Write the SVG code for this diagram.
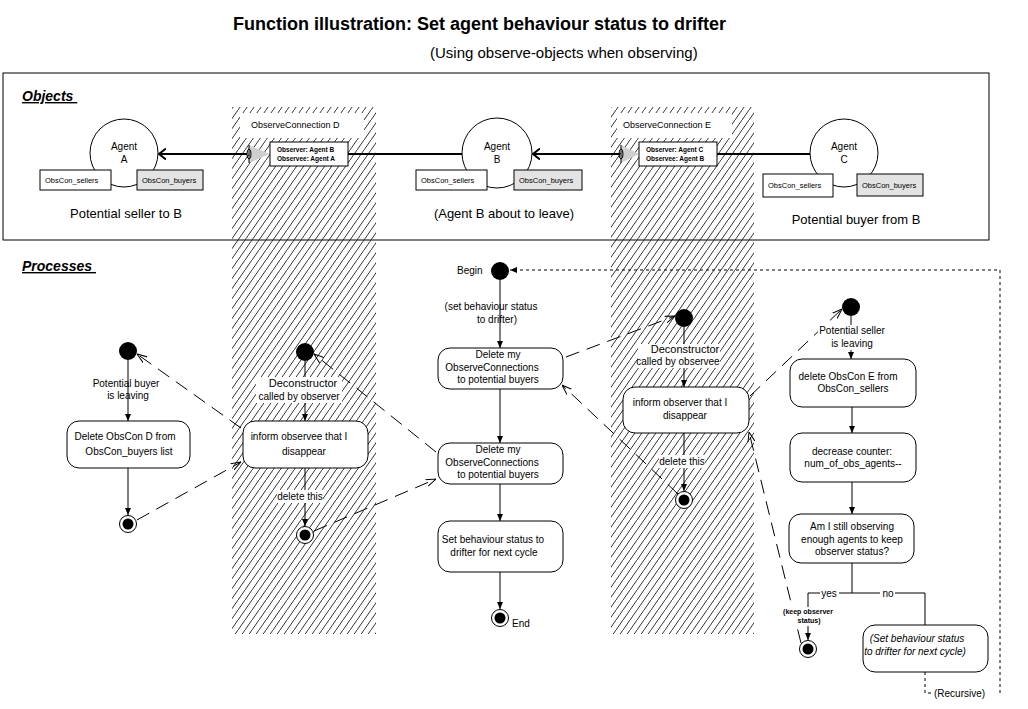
<svg xmlns="http://www.w3.org/2000/svg" width="1028" height="709" viewBox="0 0 1028 709">
<style>
text{font-family:"Liberation Sans",Arial,Helvetica,sans-serif;fill:#000}
.t10{font-size:10px}
.t11{font-size:11px}
.mid{text-anchor:middle}
.box{fill:#fff;stroke:#000;stroke-width:1}
.gray{fill:#e3e3e3;stroke:#000;stroke-width:1}
.circ{fill:#fff;stroke:#000;stroke-width:1}
.flow{fill:none;stroke:#000;stroke-width:1;marker-end:url(#tri)}
.line{fill:none;stroke:#000;stroke-width:1}
.msg{fill:none;stroke:#000;stroke-width:1;stroke-dasharray:14 8;marker-end:url(#open)}
.rec{fill:none;stroke:#000;stroke-width:1;stroke-dasharray:3 3;marker-end:url(#tri)}
.assoc{fill:none;stroke:#000;stroke-width:2}
.assocA{fill:none;stroke:#000;stroke-width:2;marker-end:url(#openA)}
.bg{fill:#fff}
.small{font-size:7.5px}
.tiny{font-size:6.5px;font-weight:bold}
.kp{font-size:7px;font-weight:bold}
.lbl{font-size:13px}
.conn{font-size:9px}
.head{font-size:14px;font-weight:bold;font-style:italic;text-decoration:underline}
.it{font-style:italic}
</style>
<defs>
<pattern id="hatch" patternUnits="userSpaceOnUse" width="7" height="10">
<path d="M-0.7,11 L7.7,-1" stroke="#000" stroke-width="0.8"/>
</pattern>
<marker id="tri" viewBox="0 0 7 6" refX="7" refY="3" markerWidth="7" markerHeight="6" orient="auto" markerUnits="userSpaceOnUse"><path d="M0,0 L7,3 L0,6 z" fill="#000"/></marker>
<marker id="open" viewBox="0 0 10 8" refX="10" refY="4" markerWidth="10" markerHeight="8" orient="auto" markerUnits="userSpaceOnUse"><path d="M0,0.5 L10,4 L0,7.5" fill="none" stroke="#000" stroke-width="1"/></marker>
<marker id="openA" viewBox="0 0 8 12" refX="7" refY="6" markerWidth="8" markerHeight="12" orient="auto" markerUnits="userSpaceOnUse"><path d="M0,0.5 L7,6 L0,11.5" fill="none" stroke="#000" stroke-width="2"/></marker>
</defs>
<rect x="0" y="0" width="1028" height="709" fill="#fff"/>

<g id="title">
<text x="233" y="30" style="font-size:18px;font-weight:bold">Function illustration: Set agent behaviour status to drifter</text>
<text x="430" y="58" style="font-size:15px">(Using observe-objects when observing)</text>
</g>

<g id="lanes">
<rect x="232" y="107" width="144" height="527" fill="url(#hatch)"/>
<rect x="611" y="107" width="143" height="527" fill="url(#hatch)"/>
</g>

<g id="objects-frame">
<rect x="3" y="73" width="986" height="167" fill="none" stroke="#000" stroke-width="1"/>
<text x="22" y="101" class="head">Objects&#160;</text>
</g>

<g id="processes-label">
<text x="22" y="271" class="head">Processes&#160;</text>
</g>

<g id="connectors">
<path class="assocA" d="M247,154 H159"/>
<path class="assoc" d="M348,154 H462"/>
<path class="assocA" d="M620,154 H533"/>
<path class="assoc" d="M717,154 H810"/>
<path class="flow" d="M128,360 V421"/>
<path class="flow" d="M128,468 V515"/>
<path class="flow" d="M305,361 V421"/>
<path class="flow" d="M305,468 V526"/>
<path class="flow" d="M500,280 V348"/>
<path class="flow" d="M500,389 V443"/>
<path class="flow" d="M500,484 V521"/>
<path class="flow" d="M500,572 V609"/>
<path class="flow" d="M684,327 V387"/>
<path class="flow" d="M684,433 V491"/>
<path class="flow" d="M851,316 V359"/>
<path class="flow" d="M852,407 V433"/>
<path class="flow" d="M852,482 V514"/>
<path class="line" d="M852,563 V593 M808,593 H925 M808,593 V608 M925,593 V625"/>
<path class="flow" d="M808,626 V640"/>
<path class="msg" d="M241,428 L137,354"/>
<path class="msg" d="M137,520 L241,462"/>
<path class="msg" d="M436,452 L314,354"/>
<path class="msg" d="M314,531 L436,479"/>
<path class="msg" d="M566,357 L675,316"/>
<path class="msg" d="M678,494 L562,385"/>
<path class="msg" d="M750,396 L842,309"/>
<path class="msg" d="M801,643 L749,432"/>
<path class="rec" d="M925,672 V693 H1000 V270 H510"/>
</g>

<g id="obsconn-d">
<rect x="240" y="113" width="124" height="25" class="bg"/>
<text x="251" y="128" class="conn">ObserveConnection  D</text>
<polygon points="249,145 270,154 249,163" fill="#cfcfcf"/>
<line x1="249" y1="145" x2="249" y2="163" stroke="#000" stroke-width="1"/>
<ellipse cx="249" cy="154" rx="2" ry="5" fill="none" stroke="#000" stroke-width="1"/>
<rect x="270" y="142" width="78" height="24" class="box"/>
<text x="277" y="152" class="tiny">Observer: Agent B</text>
<text x="277" y="161" class="tiny">Observee: Agent A</text>
</g>

<g id="obsconn-e">
<rect x="617" y="113" width="115" height="25" class="bg"/>
<text x="623" y="128" class="conn">ObserveConnection  E</text>
<polygon points="621,145 639,154 621,163" fill="#cfcfcf"/>
<line x1="621" y1="145" x2="621" y2="163" stroke="#000" stroke-width="1"/>
<ellipse cx="621" cy="154" rx="2" ry="5" fill="none" stroke="#000" stroke-width="1"/>
<rect x="639" y="142" width="78" height="24" class="box"/>
<text x="646" y="152" class="tiny">Observer: Agent C</text>
<text x="646" y="161" class="tiny">Observee: Agent B</text>
</g>

<g id="agent-a">
<circle cx="124" cy="153" r="34" class="circ"/>
<text x="124" y="150" class="t10 mid">Agent</text>
<text x="124" y="163" class="t10 mid">A</text>
<rect x="40" y="170" width="71" height="20" class="box"/>
<text x="45" y="183" class="small">ObsCon_sellers</text>
<rect x="137" y="170" width="66" height="20" class="gray"/>
<text x="142" y="183" class="small">ObsCon_buyers</text>
<text x="126" y="218" class="lbl mid">Potential seller to B</text>
</g>

<g id="agent-b">
<circle cx="497" cy="153" r="35" class="circ"/>
<text x="497" y="150" class="t10 mid">Agent</text>
<text x="497" y="163" class="t10 mid">B</text>
<rect x="416" y="170" width="71" height="20" class="box"/>
<text x="421" y="183" class="small">ObsCon_sellers</text>
<rect x="514" y="170" width="68" height="20" class="gray"/>
<text x="519" y="183" class="small">ObsCon_buyers</text>
<text x="504" y="218" class="lbl mid">(Agent B about to leave)</text>
</g>

<g id="agent-c">
<circle cx="844" cy="153" r="34" class="circ"/>
<text x="844" y="150" class="t10 mid">Agent</text>
<text x="844" y="163" class="t10 mid">C</text>
<rect x="763" y="174" width="70" height="23" class="box"/>
<text x="768" y="188" class="small">ObsCon_sellers</text>
<rect x="857" y="174" width="66" height="22" class="gray"/>
<text x="862" y="188" class="small">ObsCon_buyers</text>
<text x="856" y="224" class="lbl mid">Potential buyer from B</text>
</g>

<g id="buyer-start">
<circle cx="128" cy="351" r="9" fill="#000"/>
<text x="126" y="387" class="t10 mid">Potential buyer</text>
<text x="128" y="399" class="t10 mid">is leaving</text>
</g>
<g id="buyer-delete">
<rect x="67" y="421" width="123" height="47" rx="12" class="box"/>
<text x="125" y="440" class="t10 mid">Delete ObsCon D from</text>
<text x="129" y="455" class="t10 mid">ObsCon_buyers list</text>
</g>
<g id="buyer-end">
<circle cx="128" cy="524" r="8.5" class="circ"/>
<circle cx="128" cy="524" r="5.5" fill="#000"/>
</g>

<g id="d-start">
<circle cx="305" cy="352" r="9" fill="#000"/>
<rect x="256" y="377" width="86" height="26" class="bg"/>
<text x="303" y="387" class="t11 mid">Deconstructor</text>
<text x="299" y="400" class="t10 mid">called by observer</text>
</g>
<g id="d-inform">
<rect x="243" y="421" width="125" height="47" rx="12" class="box"/>
<text x="299" y="440" class="t10 mid">inform observee that I</text>
<text x="304" y="455" class="t10 mid">disappear</text>
</g>
<g id="d-end">
<rect x="277" y="490" width="46" height="13" class="bg"/>
<text x="300" y="500" class="t10 mid">delete this</text>
<circle cx="305" cy="535" r="8.5" class="circ"/>
<circle cx="305" cy="535" r="5.5" fill="#000"/>
</g>

<g id="b-begin">
<text x="457" y="274" class="t10">Begin</text>
<circle cx="500" cy="271" r="9" fill="#000"/>
<text x="491" y="310" class="t10 mid">(set behaviour status</text>
<text x="497" y="323" class="t10 mid">to drifter)</text>
</g>
<g id="b-delete1">
<rect x="438" y="348" width="125" height="41" rx="12" class="box"/>
<text x="498" y="358" class="t10 mid">Delete my</text>
<text x="492" y="371" class="t10 mid">ObserveConnections</text>
<text x="498" y="383" class="t10 mid">to potential buyers</text>
</g>
<g id="b-delete2">
<rect x="438" y="443" width="125" height="41" rx="12" class="box"/>
<text x="498" y="453" class="t10 mid">Delete my</text>
<text x="492" y="466" class="t10 mid">ObserveConnections</text>
<text x="498" y="478" class="t10 mid">to potential buyers</text>
</g>
<g id="b-set">
<rect x="438" y="521" width="125" height="51" rx="12" class="box"/>
<text x="493" y="543" class="t10 mid">Set behaviour status to</text>
<text x="494" y="556" class="t10 mid">drifter for next cycle</text>
</g>
<g id="b-end">
<circle cx="500" cy="618" r="8.5" class="circ"/>
<circle cx="500" cy="618" r="5.5" fill="#000"/>
<text x="512" y="627" class="t10">End</text>
</g>

<g id="e-start">
<circle cx="684" cy="318" r="9" fill="#000"/>
<rect x="638" y="344" width="82" height="24" class="bg"/>
<text x="685" y="353" class="t11 mid">Deconstructor</text>
<text x="678" y="365" class="t10 mid">called by observee</text>
</g>
<g id="e-inform">
<rect x="623" y="387" width="126" height="46" rx="12" class="box"/>
<text x="680" y="406" class="t10 mid">inform observer that I</text>
<text x="685" y="419" class="t10 mid">disappear</text>
</g>
<g id="e-end">
<rect x="659" y="455" width="46" height="13" class="bg"/>
<text x="682" y="465" class="t10 mid">delete this</text>
<circle cx="684" cy="500" r="8.5" class="circ"/>
<circle cx="684" cy="500" r="5.5" fill="#000"/>
</g>

<g id="c-start">
<circle cx="851" cy="307" r="9" fill="#000"/>
<rect x="818" y="325" width="68" height="25" class="bg"/>
<text x="852" y="334" class="t10 mid">Potential seller</text>
<text x="852" y="347" class="t10 mid">is leaving</text>
</g>
<g id="c-delete">
<rect x="790" y="359" width="126" height="48" rx="12" class="box"/>
<text x="848" y="380" class="t10 mid">delete ObsCon E from</text>
<text x="853" y="392" class="t10 mid">ObsCon_sellers</text>
</g>
<g id="c-decrease">
<rect x="790" y="433" width="126" height="49" rx="12" class="box"/>
<text x="852" y="455" class="t10 mid">decrease counter:</text>
<text x="853" y="467" class="t10 mid">num_of_obs_agents--</text>
</g>
<g id="c-decide">
<rect x="789" y="514" width="125" height="49" rx="12" class="box"/>
<text x="852" y="530" class="t10 mid">Am I still observing</text>
<text x="852" y="543" class="t10 mid">enough agents to keep</text>
<text x="852" y="555" class="t10 mid">observer status?</text>
<rect x="820" y="587" width="19" height="12" class="bg"/>
<text x="829" y="597" class="t10 mid">yes</text>
<rect x="880" y="587" width="15" height="12" class="bg"/>
<text x="888" y="597" class="t10 mid">no</text>
</g>
<g id="c-keep">
<rect x="782" y="607" width="52" height="18" class="bg"/>
<text x="808" y="614" class="kp mid">(keep observer</text>
<text x="809" y="623" class="kp mid">status)</text>
<circle cx="808" cy="649" r="8.5" class="circ"/>
<circle cx="808" cy="649" r="5.5" fill="#000"/>
</g>
<g id="c-drifter">
<rect x="863" y="625" width="125" height="47" rx="12" class="box"/>
<text x="917" y="642" class="t10 mid it">(Set behaviour status</text>
<text x="915" y="655" class="t10 mid it">to drifter for next cycle)</text>
<rect x="932" y="686" width="67" height="13" class="bg"/>
<text x="934" y="697" class="t10">(Recursive)</text>
</g>
</svg>
